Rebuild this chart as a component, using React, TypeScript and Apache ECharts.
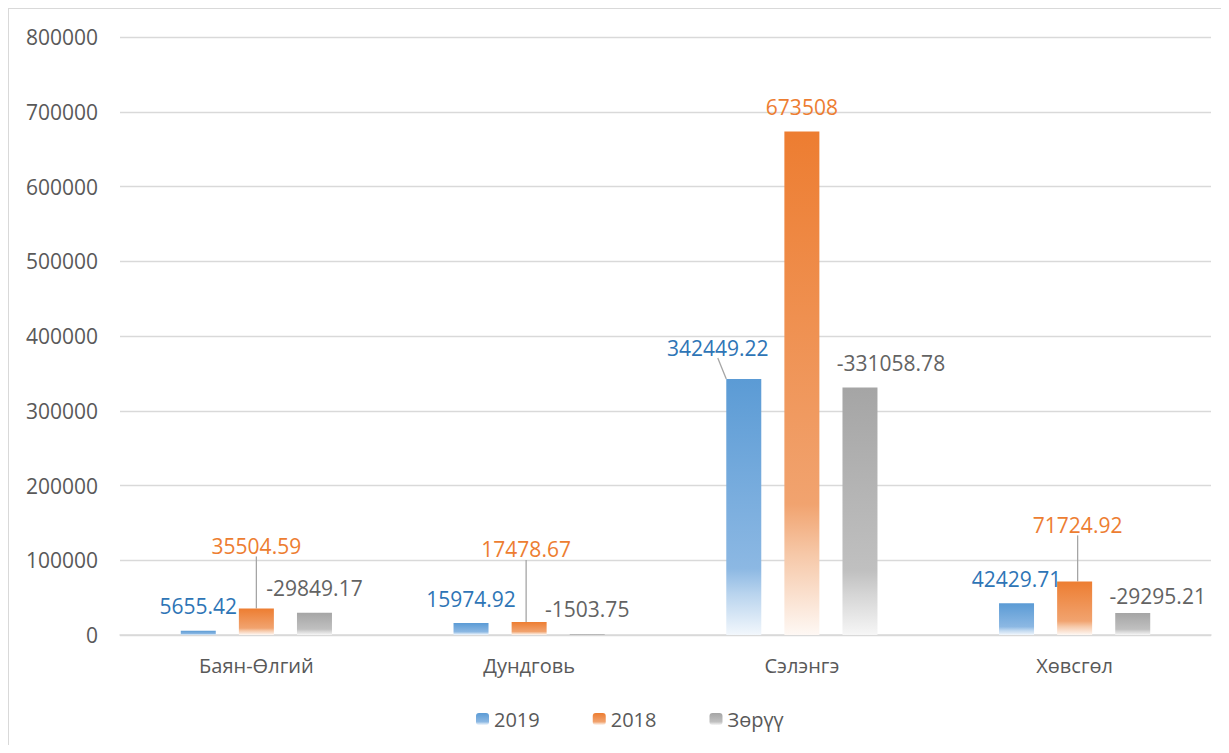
import React, { useEffect, useRef } from "react";
import * as echarts from "echarts";

const categories = ["Баян-Өлгий", "Дундговь", "Сэлэнгэ", "Хөвсгөл"];
const values2019 = [5655.42, 15974.92, 342449.22, 42429.71];
const values2018 = [35504.59, 17478.67, 673508, 71724.92];
const diffValues = [-29849.17, -1503.75, -331058.78, -29295.21];
const seriesNames = ["2019", "2018", "Зөрүү"];
const yMin = 0;
const yMax = 800000;
const yInterval = 100000;

// label moves (dx, dy) per series/data index, and whether a leader line is drawn
const labelMoves: Record<number, Record<number, [number, number, boolean]>> = {
  0: { 2: [-26, -7, true] },
  1: { 0: [0, -38, true], 1: [-3, -48, true], 3: [3, -32, true] },
  2: { 2: [31, 0, false], 3: [25, 7, false] },
};

const FONT = "'Open Sans', 'Noto Sans', sans-serif";

const gradStops = [
  ["#5B9BD5", "#8CB8E3", "#B9D4EE", "#F2F7FC"],
  ["#ED7D31", "#F1A36F", "#F6C8A8", "#FEF8F4"],
  ["#A5A5A5", "#C0C0C0", "#D6D6D6", "#F6F6F6"],
];

function grad(si: number) {
  const s = gradStops[si];
  return new echarts.graphic.LinearGradient(0, 0, 0, 1, [
    { offset: 0, color: s[0] },
    { offset: 0.74, color: s[1] },
    { offset: 0.84, color: s[2] },
    { offset: 1, color: s[3] },
  ]);
}

const labelColors = ["#2E75B6", "#ED7D31", "#636363"];

export default function App() {
  const ref = useRef<HTMLDivElement>(null);
  useEffect(() => {
    if (!ref.current) return;
    const chart = echarts.init(ref.current, null, { renderer: "svg" });
    const dataSets = [values2019, values2018, diffValues.map((v) => -v)];
    const labelTexts = [values2019, values2018, diffValues];
    const series = dataSets.map((arr, si) => ({
      name: seriesNames[si],
      type: "bar",
      barWidth: 35,
      barGap: "66%",
      itemStyle: { color: grad(si) },
      data: arr.map((v, di) => {
        const mv = labelMoves[si] && labelMoves[si][di];
        return {
          value: v,
          labelLine: { show: !!(mv && mv[2]) },
        };
      }),
      label: {
        show: true,
        position: "top",
        distance: 14,
        color: labelColors[si],
        fontSize: 21,
        fontFamily: FONT,
        formatter: (p: any) => String(labelTexts[si][p.dataIndex]),
      },
      labelLine: {
        show: false,
        lineStyle: { color: "#A5A5A5", width: 1.3 },
      },
      labelLayout: (p: any) => {
        const mv = labelMoves[si] && labelMoves[si][p.dataIndex];
        return mv ? { dx: mv[0], dy: mv[1] } : {};
      },
    }));
    chart.setOption({
      animation: false,
      backgroundColor: "#ffffff",
      grid: { left: 111, right: 10, top: 28, bottom: 110, containLabel: false },
      legend: {
        data: seriesNames,
        left: 462,
        top: 695,
        itemWidth: 13,
        itemHeight: 12,
        itemGap: 53,
        textStyle: { color: "#595959", fontSize: 20, fontFamily: FONT },
      },
      xAxis: {
        type: "category",
        data: categories,
        axisLine: { lineStyle: { color: "#D9D9D9", width: 1.5 } },
        axisTick: { show: false },
        axisLabel: { color: "#595959", fontSize: 20, fontFamily: FONT, margin: 20 },
      },
      yAxis: {
        type: "value",
        min: yMin,
        max: yMax,
        interval: yInterval,
        axisLine: { show: false },
        axisTick: { show: false },
        splitLine: { lineStyle: { color: "#D9D9D9", width: 1.3 } },
        axisLabel: {
          color: "#595959",
          fontSize: 21,
          fontFamily: FONT,
          margin: 22,
          formatter: (v: number) => String(v),
        },
      },
      series,
    });
    return () => chart.dispose();
  }, []);
  return (
    <div
      style={{
        width: 1213,
        height: 737,
        borderLeft: "1px solid #D9D9D9",
        borderTop: "1px solid #D9D9D9",
        boxSizing: "border-box",
      }}
    >
      <div ref={ref} style={{ width: 1212, height: 736 }} />
    </div>
  );
}
